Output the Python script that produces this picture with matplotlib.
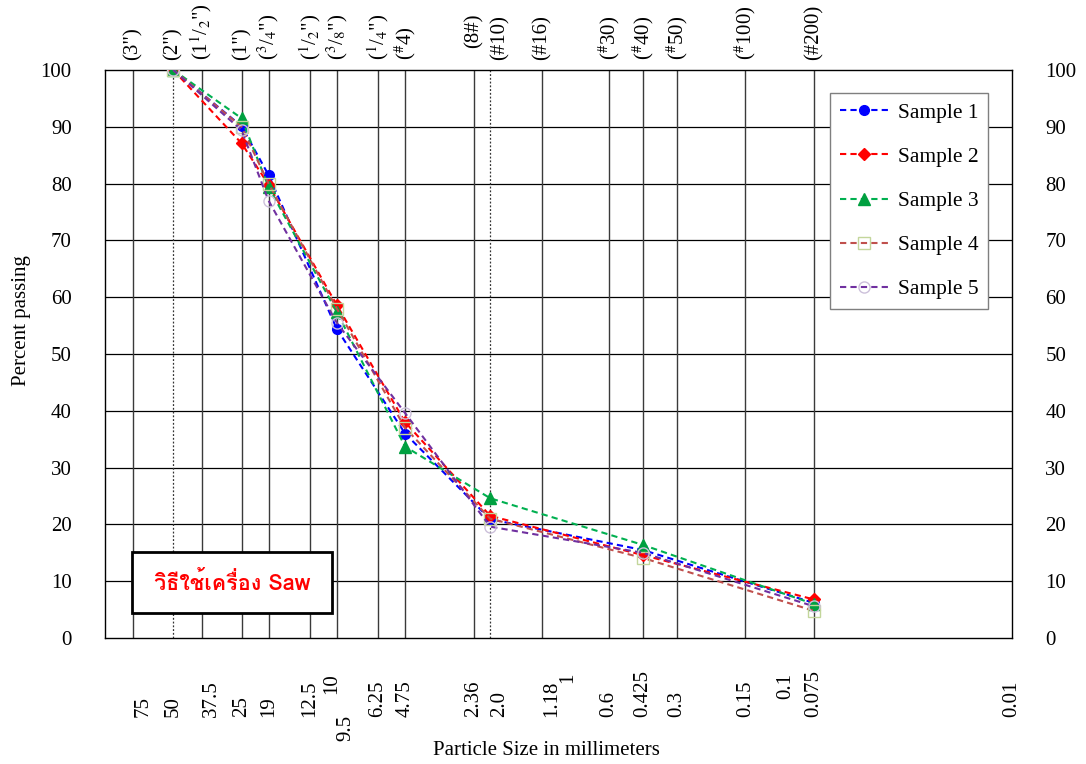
import matplotlib
matplotlib.use("Agg")
import matplotlib.pyplot as plt
import matplotlib.transforms as mtransforms
from matplotlib import font_manager, ft2font
from matplotlib.patches import Rectangle
from matplotlib.ticker import NullLocator

plt.rcParams['font.family'] = ['Liberation Serif', 'DejaVu Serif']
plt.rcParams['mathtext.fontset'] = 'stix'

# sieve sizes (mm) where data was taken
sizes = [50, 25, 19, 9.5, 4.75, 2.0, 0.425, 0.075]

sample1 = [100, 90.1, 81.5, 54.4, 36.0, 20.9, 15.5, 6.2]
sample2 = [100, 87.1, 79.8, 58.6, 38.0, 21.5, 14.6, 6.8]
sample3 = [100, 91.5, 79.4, 57.4, 33.7, 24.6, 16.4, 6.0]
sample4 = [100, 90.0, 80.0, 58.0, 37.0, 21.0, 14.1, 4.8]
sample5 = [100, 89.4, 77.0, 55.5, 39.6, 19.6, 15.0, 5.6]

series_names = ['Sample 1', 'Sample 2', 'Sample 3', 'Sample 4', 'Sample 5']

# vertical grid lines (sieve openings)
grid_sizes = [75, 50, 37.5, 25, 19, 12.5, 9.5, 6.25, 4.75, 2.36, 2.0, 1.18,
              0.6, 0.425, 0.3, 0.15, 0.075]
dotted_sizes = [50, 2.0]

# sieve names along the top
top_sizes = [75, 50, 37.5, 25, 19, 12.5, 9.5, 6.25, 4.75, 2.36, 2.0, 1.18,
             0.6, 0.425, 0.3, 0.15, 0.075]
top_labels = ['(3")', '(2")', '(1$^{1}$/$_{2}$")', '(1")', '($^{3}$/$_{4}$")',
              '($^{1}$/$_{2}$")', '($^{3}$/$_{8}$")', '($^{1}$/$_{4}$")',
              '($^{\\#}$4)', '(8#)', '(#10)', '(#16)', '($^{\\#}$30)',
              '($^{\\#}$40)', '($^{\\#}$50)', '($^{\\#}$100)', '(#200)']

# size labels along the bottom
bottom_sizes = [75, 50, 37.5, 25, 19, 12.5, 9.5, 6.25, 4.75, 2.36, 2.0, 1.18,
                0.6, 0.425, 0.3, 0.15, 0.075, 0.01]
bottom_labels = ['75', '50', '37.5', '25', '19', '12.5', '9.5', '6.25', '4.75',
                 '2.36', '2.0', '1.18', '0.6', '0.425', '0.3', '0.15', '0.075',
                 '0.01']
raised_sizes = [10, 1, 0.1]
raised_labels = ['10', '1', '0.1']


def find_thai_family():
    found = []
    for f in font_manager.fontManager.ttflist:
        try:
            cmap = ft2font.FT2Font(f.fname).get_charmap()
        except Exception:
            continue
        if 0x0E27 in cmap and 0x0E40 in cmap and 0x53 in cmap:
            found.append(f.name)
    for pref in ['Norasi', 'Kinnari', 'Garuda', 'Loma']:
        if pref in found:
            return pref
    return found[0] if found else 'DejaVu Sans'


thai_family = find_thai_family()

fig = plt.figure(figsize=(10.86, 7.64), dpi=100)
ax = fig.add_axes([0.0967, 0.1649, 0.8352, 0.7435])

ax.set_xscale('log')
ax.set_xlim(100, 0.01)
ax.set_ylim(0, 100)
ax.xaxis.set_major_locator(NullLocator())
ax.xaxis.set_minor_locator(NullLocator())
ax.set_yticks(range(0, 101, 10))
ax.tick_params(axis='y', length=0, pad=24, labelsize=15, labelright=True)

for y in range(10, 100, 10):
    ax.axhline(y, color='black', lw=0.9, zorder=1)
for s in grid_sizes:
    if s in dotted_sizes:
        ax.axvline(s, color='#333333', lw=0.9, ls=(0, (1.5, 1.5)), zorder=1)
    else:
        ax.axvline(s, color='#3a3a3a', lw=1.0, zorder=1)

for sp in ax.spines.values():
    sp.set_color('black')
    sp.set_linewidth(1.0)

styles = [
    dict(color='#0000FF', marker='o', ms=7, mfc='#0000FF', mec='#0000FF'),
    dict(color='#FF0000', marker='D', ms=6, mfc='#FF0000', mec='#FF0000'),
    dict(color='#00B050', marker='^', ms=8, mfc='#00A040', mec='#00A040'),
    dict(color='#C0504D', marker='s', ms=8, mfc='none', mec='#C3D69B'),
    dict(color='#7030A0', marker='o', ms=8, mfc='none', mec='#CCC0DA'),
]
for vals, name, st in zip([sample1, sample2, sample3, sample4, sample5],
                          series_names, styles):
    ax.plot(sizes, vals, ls=(0, (3, 2)), lw=1.5, label=name, zorder=3, **st)

leg = ax.legend(loc='upper right', bbox_to_anchor=(0.9735, 0.9595),
                borderaxespad=0, fontsize=15.5, fancybox=False, framealpha=1,
                edgecolor='#7f7f7f', handlelength=2.3, labelspacing=1.12,
                borderpad=0.45, handletextpad=0.4, numpoints=1)
leg.get_frame().set_linewidth(1.0)

trans = mtransforms.blended_transform_factory(ax.transData, ax.transAxes)

for s, lab in zip(top_sizes, top_labels):
    y = 1.039 if lab == '(8#)' else 1.017
    ha = 'left' if s == 2.0 else 'center'
    ax.text(s, y, lab, transform=trans, rotation=90, ha=ha, va='bottom',
            fontsize=15)

for s, lab in zip(bottom_sizes, bottom_labels):
    if lab == '9.5':
        ax.text(s, -0.136, lab, transform=trans, rotation=90, ha='left',
                va='top', fontsize=15)
        continue
    ha = 'left' if lab in ('2.0', '1.18', '37.5', '75') else 'center'
    ax.text(s, -0.139, lab, transform=trans, rotation=90, ha=ha, va='bottom',
            fontsize=15)

for s, lab in zip(raised_sizes, raised_labels):
    ha = 'left' if lab == '1' else 'center'
    ax.text(s, -0.0616, lab, transform=trans, rotation=90, ha=ha,
            va='top', fontsize=15)

ax.add_patch(Rectangle((0.0298, 0.044), 0.2205, 0.1074, transform=ax.transAxes,
                       fc='white', ec='black', lw=2.0, zorder=5))
ax.text(0.1400, 0.0977, 'วิธีใช้เครื่อง Saw', transform=ax.transAxes,
        ha='center', va='center', color='#FF0000', fontsize=15.5,
        fontweight='bold', family=[thai_family, 'Liberation Serif'], zorder=6)

fig.text(0.020, 0.58, 'Percent passing', rotation=90, ha='center',
         va='center', fontsize=15)
fig.text(0.503, 0.018, 'Particle Size in millimeters', ha='center',
         va='center', fontsize=15)

fig.savefig('out.png', dpi=100, facecolor='white')
